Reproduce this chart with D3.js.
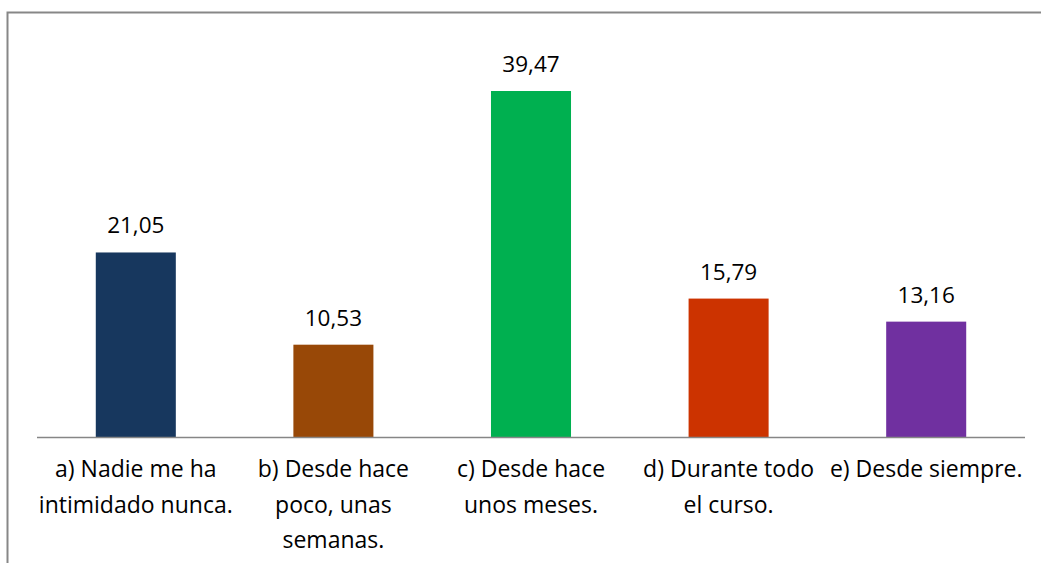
<!DOCTYPE html>
<html>
<head>
<meta charset="utf-8">
<script src="https://cdn.jsdelivr.net/npm/d3@7"></script>
<style>
  body { margin: 0; background: #fff; }
  svg { display: block; font-family: "Open Sans", "Liberation Sans", sans-serif; }
</style>
</head>
<body>
<svg id="chart"></svg>
<script>
var categories = ["a", "b", "c", "d", "e"];
var labels = [
  ["a) Nadie me ha", "intimidado nunca."],
  ["b) Desde hace", "poco, unas", "semanas."],
  ["c) Desde hace", "unos meses."],
  ["d) Durante todo", "el curso."],
  ["e) Desde siempre."]
];
var values = [21.05, 10.53, 39.47, 15.79, 13.16];
var colors = ["#17375E", "#984807", "#00B050", "#CC3300", "#7030A0"];

var width = 1041, height = 563;
var margin = {top: 91, right: 16, bottom: 126, left: 37};
var baseY = height - margin.bottom;

var svg = d3.select("#chart")
  .attr("width", width)
  .attr("height", height);

// outer frame (only top and left edges visible)
svg.append("path")
  .attr("d", "M7.5," + height + "V12.5H" + width)
  .attr("fill", "none")
  .attr("stroke", "#878787")
  .attr("stroke-width", 2);

var x = d3.scaleBand()
  .domain(categories)
  .range([margin.left, width - margin.right])
  .paddingInner(0.595)
  .paddingOuter(0.2975);

var y = d3.scaleLinear()
  .domain([0, 39.47])
  .range([baseY, margin.top]);

svg.append("g")
  .selectAll("rect")
  .data(values)
  .join("rect")
    .attr("x", (d, i) => x(categories[i]))
    .attr("y", d => y(d))
    .attr("width", x.bandwidth())
    .attr("height", d => y(0) - y(d))
    .attr("fill", (d, i) => colors[i]);

svg.append("g")
  .selectAll("text")
  .data(values)
  .join("text")
    .attr("x", (d, i) => x(categories[i]) + x.bandwidth() / 2)
    .attr("y", d => y(d) - 19)
    .attr("text-anchor", "middle")
    .style("font-size", "22.5px")
    .attr("fill", "#000")
    .text(d => d3.format(".2f")(d).replace(".", ","));

// x axis line
svg.append("line")
  .attr("x1", margin.left)
  .attr("x2", width - margin.right)
  .attr("y1", baseY + 0.5)
  .attr("y2", baseY + 0.5)
  .attr("stroke", "#868686")
  .attr("stroke-width", 1.5);

var cat = svg.append("g")
  .selectAll("text")
  .data(labels)
  .join("text")
    .attr("x", (d, i) => x(categories[i]) + x.bandwidth() / 2)
    .attr("y", baseY + 40)
    .attr("text-anchor", "middle")
    .style("font-size", "23px")
    .attr("fill", "#000");

cat.selectAll("tspan")
  .data(d => d)
  .join("tspan")
    .attr("x", function() { return this.parentNode.getAttribute("x"); })
    .attr("dy", (d, i) => i ? 35.5 : 0)
    .text(d => d);
</script>
</body>
</html>
